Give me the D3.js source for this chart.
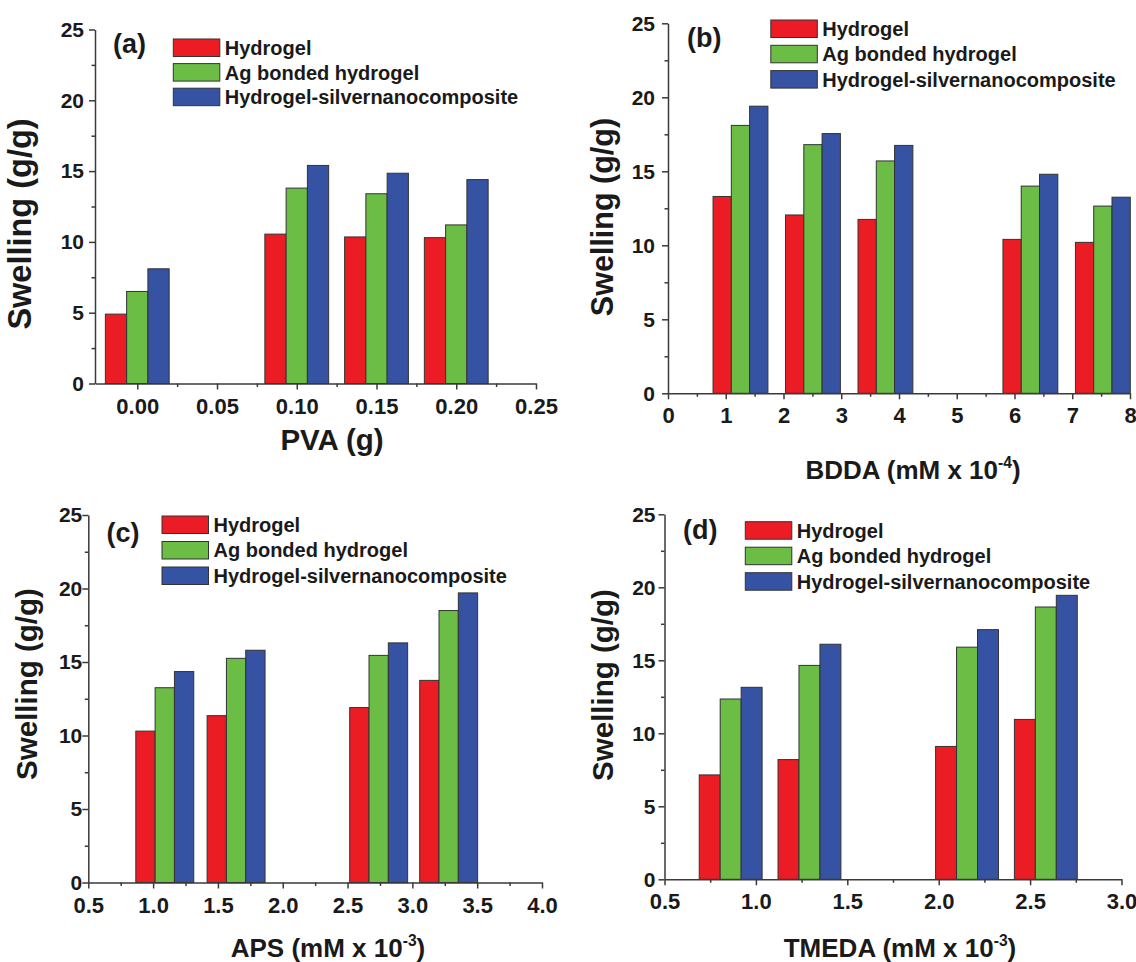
<!DOCTYPE html>
<html>
<head>
<meta charset="utf-8">
<script src="https://cdn.jsdelivr.net/npm/d3@7"></script>
<style>
  body { margin: 0; background: #fff; }
  svg { display: block; font-family: "Liberation Sans", Arial, sans-serif; font-weight: bold; }
</style>
</head>
<body>
<svg id="chart" width="1136" height="962"></svg>
<script>
// series shared by all four panels
const seriesNames = ["Hydrogel", "Ag bonded hydrogel", "Hydrogel-silvernanocomposite"];
const seriesColors = ["#ec1c24", "#6bbd45", "#3652a3"];
const swellingTicks = [0, 5, 10, 15, 20, 25];

// (a) PVA (g)
const pvaX = [0.00, 0.10, 0.15, 0.20];
const pvaHydrogel = [4.9, 10.55, 10.35, 10.3];
const pvaAgBonded = [6.5, 13.8, 13.4, 11.2];
const pvaNanocomposite = [8.1, 15.4, 14.85, 14.4];
const pvaTicks = [0.00, 0.05, 0.10, 0.15, 0.20, 0.25];

// (b) BDDA (mM x 10^-4)
const bddaX = [1.255, 2.51, 3.765, 6.275, 7.53];
const bddaHydrogel = [13.3, 12.05, 11.75, 10.4, 10.2];
const bddaAgBonded = [18.1, 16.8, 15.7, 14.0, 12.65];
const bddaNanocomposite = [19.4, 17.55, 16.75, 14.8, 13.25];
const bddaTicks = [0, 1, 2, 3, 4, 5, 6, 7, 8];

// (c) APS (mM x 10^-3)
const apsX = [1.09, 1.64, 2.74, 3.28];
const apsHydrogel = [10.3, 11.35, 11.9, 13.75];
const apsAgBonded = [13.25, 15.25, 15.45, 18.5];
const apsNanocomposite = [14.35, 15.8, 16.3, 19.7];
const apsTicks = [0.5, 1.0, 1.5, 2.0, 2.5, 3.0, 3.5, 4.0];

// (d) TMEDA (mM x 10^-3)
const tmedaX = [0.862, 1.293, 2.155, 2.586];
const tmedaHydrogel = [7.15, 8.2, 9.1, 10.95];
const tmedaAgBonded = [12.35, 14.65, 15.9, 18.65];
const tmedaNanocomposite = [13.15, 16.1, 17.1, 19.45];
const tmedaTicks = [0.5, 1.0, 1.5, 2.0, 2.5, 3.0];

const axisColor = "#3a3a3a",
      textColor = "#1a1a1a";

class SwellingPanel {
    constructor(svg, opts) {
        this.svg = svg;
        this.o = opts;
        this.g = svg.append('g').attr('class', 'panel-' + opts.tag);

        this.x = d3.scaleLinear().domain(opts.xDomain).range(opts.xRange);
        this.y = d3.scaleLinear().domain([0, 25]).range(opts.yRange);
    }

    draw() {
        this.drawBars();
        this.drawAxes();
        this.drawTitles();
        this.drawLegend();
    }

    drawBars() {
        var o = this.o, x = this.x, y = this.y;
        var bw = o.groupWidth / 3;
        o.values.forEach((vals, s) => {
            var rows = o.xs.map((xv, i) => ({
                x0: xv - o.groupWidth / 2 + s * bw,
                v: vals[i]
            }));
            this.g.selectAll('.bar-' + s)
                .data(rows)
                .enter().append('rect')
                .attr('class', 'bar-' + s)
                .attr('x', d => x(d.x0))
                .attr('width', d => x(d.x0 + bw) - x(d.x0))
                .attr('y', d => y(d.v))
                .attr('height', d => y(0) - y(d.v))
                .attr('fill', seriesColors[s])
                .attr('stroke', '#333')
                .attr('stroke-width', 1);
        });
    }

    drawAxes() {
        var o = this.o, x = this.x, y = this.y;
        var x0 = o.xRange[0], y0 = o.yRange[0];

        // minor ticks first, majors on top
        this.g.append('g')
            .attr('transform', 'translate(0,' + y0 + ')')
            .call(d3.axisBottom(x).tickValues(o.xMinor).tickFormat('').tickSize(3.5))
            .call(a => a.select('.domain').remove());
        this.g.append('g')
            .attr('transform', 'translate(' + x0 + ',0)')
            .call(d3.axisLeft(y).tickValues(d3.range(2.5, 25, 5)).tickFormat('').tickSize(3.5))
            .call(a => a.select('.domain').remove());

        var xa = this.g.append('g')
            .attr('transform', 'translate(0,' + y0 + ')')
            .call(d3.axisBottom(x).tickValues(o.xTicks).tickFormat(o.fmt)
                .tickSizeInner(6).tickSizeOuter(0).tickPadding(8.5));
        var ya = this.g.append('g')
            .attr('transform', 'translate(' + x0 + ',0)')
            .call(d3.axisLeft(y).tickValues(swellingTicks)
                .tickSizeInner(6).tickSizeOuter(0).tickPadding(o.yPad));

        this.g.selectAll('g').attr('font-family', null).attr('font-size', null);
        xa.selectAll('text').attr('font-size', 22);
        ya.selectAll('text').attr('font-size', 21);

        this.g.selectAll('.tick line, .domain')
            .attr('stroke', axisColor)
            .attr('stroke-width', 1.5);
        this.g.selectAll('.tick text').attr('fill', textColor);
    }

    drawTitles() {
        var o = this.o;

        // x title, with optional superscript
        var xt = this.g.append('text')
            .attr('x', o.xTitle.cx)
            .attr('y', o.xTitle.base)
            .attr('text-anchor', 'middle')
            .attr('font-size', o.xTitle.size)
            .attr('fill', textColor);
        xt.append('tspan').text(o.xTitle.text);
        if (o.xTitle.sup) {
            xt.append('tspan').attr('font-size', o.xTitle.size * 0.6)
                .attr('dy', -o.xTitle.size * 0.42).text(o.xTitle.sup);
            xt.append('tspan').attr('dy', o.xTitle.size * 0.42).text(')');
        }

        this.g.append('text')
            .attr('transform', 'translate(' + o.yTitle.base + ',' + o.yTitle.cy + ') rotate(-90)')
            .attr('text-anchor', 'middle')
            .attr('font-size', o.yTitle.size)
            .attr('fill', textColor)
            .text('Swelling (g/g)');

        this.g.append('text')
            .attr('x', o.tagPos[0])
            .attr('y', o.tagPos[1])
            .attr('font-size', 27)
            .attr('fill', textColor)
            .text('(' + o.tag + ')');
    }

    drawLegend() {
        var o = this.o, lg = o.legend;
        var item = this.g.append('g').selectAll('g')
            .data(seriesNames)
            .enter().append('g')
            .attr('transform', (d, i) => 'translate(' + lg.x + ',' + (lg.y + i * lg.pitch) + ')');
        item.append('rect')
            .attr('width', 46.5).attr('height', 17.5)
            .attr('fill', (d, i) => seriesColors[i])
            .attr('stroke', '#333').attr('stroke-width', 1);
        item.append('text')
            .attr('x', 51.5).attr('y', 8.75).attr('dy', '0.36em')
            .attr('font-size', 20)
            .attr('fill', textColor)
            .text(d => d);
    }
}//end class SwellingPanel

var svg = d3.select('#chart');
svg.append('rect').attr('width', 1136).attr('height', 962).attr('fill', '#fff');

var panels = [
    {
        tag: 'a', xs: pvaX, values: [pvaHydrogel, pvaAgBonded, pvaNanocomposite],
        xDomain: [-0.0265, 0.25], xRange: [95, 536], yRange: [383.5, 29.5],
        xTicks: pvaTicks, xMinor: d3.range(0.025, 0.25, 0.05), fmt: d3.format('.2f'),
        groupWidth: 0.04, yPad: 5,
        xTitle: { text: 'PVA (g)', cx: 332, base: 450, size: 29.5 },
        yTitle: { base: 31, cy: 224, size: 32.5 },
        tagPos: [113, 53], legend: { x: 173.3, y: 39, pitch: 24.6 }
    },
    {
        tag: 'b', xs: bddaX, values: [bddaHydrogel, bddaAgBonded, bddaNanocomposite],
        xDomain: [0, 8], xRange: [668, 1130], yRange: [393.3, 23.3],
        xTicks: bddaTicks, xMinor: d3.range(0.5, 8, 1), fmt: d3.format('d'),
        groupWidth: 0.95, yPad: 7,
        xTitle: { text: 'BDDA (mM x 10', sup: '-4', cx: 913, base: 478.5, size: 26 },
        yTitle: { base: 613, cy: 217, size: 30.5 },
        tagPos: [687, 47], legend: { x: 770.8, y: 20, pitch: 25.3 }
    },
    {
        tag: 'c', xs: apsX, values: [apsHydrogel, apsAgBonded, apsNanocomposite],
        xDomain: [0.5, 4.0], xRange: [88.3, 542], yRange: [882.5, 515],
        xTicks: apsTicks, xMinor: d3.range(0.75, 4, 0.5), fmt: d3.format('.1f'),
        groupWidth: 0.447, yPad: 0,
        xTitle: { text: 'APS (mM x 10', sup: '-3', cx: 328, base: 957, size: 26 },
        yTitle: { base: 37, cy: 684, size: 29.5 },
        tagPos: [106.5, 541.5], legend: { x: 162, y: 516, pitch: 25.5 }
    },
    {
        tag: 'd', xs: tmedaX, values: [tmedaHydrogel, tmedaAgBonded, tmedaNanocomposite],
        xDomain: [0.5, 3.0], xRange: [664.5, 1121.5], yRange: [879.3, 514.3],
        xTicks: tmedaTicks, xMinor: d3.range(0.75, 3, 0.5), fmt: d3.format('.1f'),
        groupWidth: 0.344, yPad: 3,
        xTitle: { text: 'TMEDA (mM x 10', sup: '-3', cx: 900, base: 957, size: 26 },
        yTitle: { base: 613, cy: 685, size: 29.5 },
        tagPos: [683, 539], legend: { x: 745.3, y: 521.7, pitch: 25.5 }
    }
];

panels.forEach(p => new SwellingPanel(svg, p).draw());
</script>
</body>
</html>
